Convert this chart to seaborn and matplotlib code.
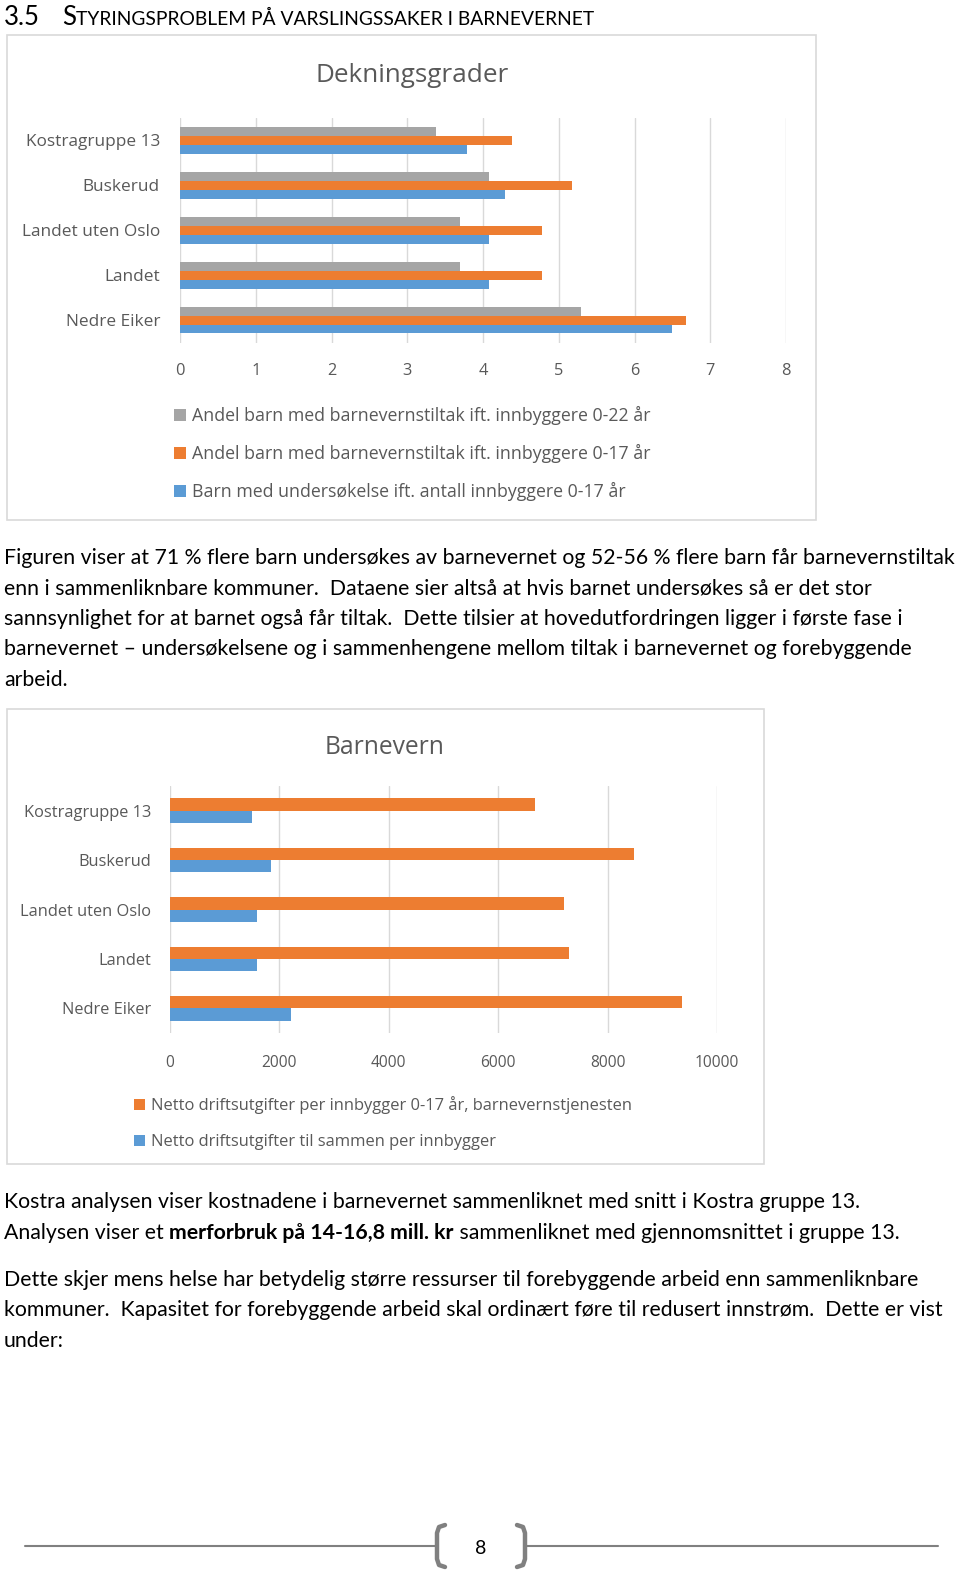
import numpy as np
import pandas as pd
import matplotlib
matplotlib.use("Agg")
import matplotlib.pyplot as plt
import seaborn as sns
from matplotlib import font_manager
from matplotlib.patches import Rectangle
from matplotlib.lines import Line2D

# ---------------- data ----------------
categories = ["Kostragruppe 13", "Buskerud", "Landet uten Oslo", "Landet", "Nedre Eiker"]

dek_series = [
    "Andel barn med barnevernstiltak ift. innbyggere 0-22 år",
    "Andel barn med barnevernstiltak ift. innbyggere 0-17 år",
    "Barn med undersøkelse ift. antall innbyggere 0-17 år",
]
dek_0_22 = [3.38, 4.08, 3.69, 3.69, 5.29]
dek_0_17 = [4.38, 5.18, 4.78, 4.78, 6.68]
dek_unders = [3.79, 4.29, 4.08, 4.08, 6.49]
dek_ticks = [0, 1, 2, 3, 4, 5, 6, 7, 8]

bv_series = [
    "Netto driftsutgifter per innbygger 0-17 år, barnevernstjenesten",
    "Netto driftsutgifter til sammen per innbygger",
]
bv_0_17 = [6670, 8490, 7200, 7290, 9360]
bv_total = [1500, 1850, 1590, 1590, 2220]
bv_ticks = [0, 2000, 4000, 6000, 8000, 10000]

GRAY, ORANGE, BLUE = "#a5a5a5", "#ed7d31", "#5b9bd5"
TXT = "#595959"
GRID = "#d9d9d9"

# ---------------- setup ----------------
sns.set_theme(style="white")
names = {f.name for f in font_manager.fontManager.ttflist}
BODY = "Liberation Sans Narrow" if "Liberation Sans Narrow" in names else "Lato"
CHART = "Open Sans" if "Open Sans" in names else "DejaVu Sans"
plt.rcParams["font.family"] = [CHART, "DejaVu Sans"]

W, H = 960, 1572
fig = plt.figure(figsize=(W / 100, H / 100), dpi=100)
fig.patch.set_facecolor("white")
renderer = fig.canvas.get_renderer()


def rect(x0, y0, x1, y1):
    return [x0 / W, 1 - y1 / H, (x1 - x0) / W, (y1 - y0) / H]


def fx(x):
    return x / W


def fy(y):
    return 1 - y / H


def width_of(text, size, family, weight="normal"):
    t = fig.text(0, 0, text + "|", fontsize=size, family=family, weight=weight)
    w1 = t.get_window_extent(renderer).width
    t.remove()
    t = fig.text(0, 0, "|", fontsize=size, family=family, weight=weight)
    w2 = t.get_window_extent(renderer).width
    t.remove()
    return w1 - w2


def fit(text, target, family, weight="normal"):
    return 10 * target / width_of(text, 10, family, weight)


# ---------------- heading ----------------
hb = fit("3.5", 36, BODY)
fig.text(fx(4), fy(25), "3.5", fontsize=hb, family=BODY, color="black", va="baseline")
fig.text(fx(62), fy(25), "S", fontsize=hb, family=BODY, color="black", va="baseline")
xs = 62 + width_of("S", hb, BODY)
rest = "TYRINGSPROBLEM PÅ VARSLINGSSAKER I BARNEVERNET"
hs = fit(rest, 591 - xs, BODY)
fig.text(fx(xs), fy(25), rest, fontsize=hs, family=BODY, color="black", va="baseline")

# ---------------- chart boxes ----------------
for (x0, y0, x1, y1) in [(7, 35, 816, 520), (7, 709, 764, 1164)]:
    fig.patches.append(Rectangle((fx(x0), fy(y1)), (x1 - x0) / W, (y1 - y0) / H,
                                 transform=fig.transFigure, fill=False, ec=GRID, lw=1.2))


def style_axes(ax, ticks, xmax, ysize, xsize, ypad, xpad):
    ax.set_xlim(0, xmax)
    ax.set_ylim(4.5, -0.5)
    ax.set_xticks(ticks)
    ax.set_xticklabels([str(t) for t in ticks])
    ax.set_xlabel("")
    ax.set_ylabel("")
    for s in ax.spines.values():
        s.set_visible(False)
    ax.grid(axis="x", color=GRID, lw=1.0)
    ax.grid(axis="y", visible=False)
    ax.set_axisbelow(True)
    ax.tick_params(axis="y", length=0, pad=ypad, labelsize=ysize, labelcolor=TXT)
    ax.tick_params(axis="x", length=0, pad=xpad, labelsize=xsize, labelcolor=TXT)
    ax.patch.set_alpha(0)


# ---------------- chart 1 ----------------
fig.text(fx(412), fy(75), "Dekningsgrader", fontsize=fit("Dekningsgrader", 194, CHART),
         color=TXT, ha="center", va="center")
ax1 = fig.add_axes(rect(180, 117.5, 786, 342.5))
df1 = pd.DataFrame({
    "Område": categories * 3,
    "Serie": [s for s in dek_series for _ in categories],
    "Verdi": dek_0_22 + dek_0_17 + dek_unders,
})
sns.barplot(data=df1, y="Område", x="Verdi", hue="Serie", order=categories,
            hue_order=dek_series, palette=[GRAY, ORANGE, BLUE], width=0.6, gap=0,
            saturation=1, linewidth=0, orient="h", ax=ax1, errorbar=None)
ylab1 = fit("Landet uten Oslo", 138, CHART)
style_axes(ax1, dek_ticks, 8, ylab1, ylab1 * 0.95, 14.4, 15)
h1, l1 = ax1.get_legend_handles_labels()
ax1.get_legend().remove()
leg1size = fit(dek_series[0], 457, CHART)
fig.legend(h1, l1, loc="upper left", bbox_to_anchor=(fx(174), fy(406)), frameon=False,
           fontsize=leg1size, labelcolor=TXT, handlelength=0.65, handleheight=0.65,
           handletextpad=0.35, labelspacing=1.07, borderpad=0, borderaxespad=0)

# ---------------- chart 2 ----------------
fig.text(fx(385), fy(747), "Barnevern", fontsize=fit("Barnevern", 119, CHART),
         color=TXT, ha="center", va="center")
ax2 = fig.add_axes(rect(170, 786, 717, 1033))
df2 = pd.DataFrame({
    "Område": categories * 2,
    "Serie": [s for s in bv_series for _ in categories],
    "Verdi": bv_0_17 + bv_total,
})
sns.barplot(data=df2, y="Område", x="Verdi", hue="Serie", order=categories,
            hue_order=bv_series, palette=[ORANGE, BLUE], width=0.5, gap=0,
            saturation=1, linewidth=0, orient="h", ax=ax2, errorbar=None)
ylab2 = fit("Landet uten Oslo", 131, CHART)
style_axes(ax2, bv_ticks, 10000, ylab2, ylab2 * 0.95, 13.7, 16)
h2, l2 = ax2.get_legend_handles_labels()
ax2.get_legend().remove()
leg2size = fit(bv_series[0], 485, CHART)
fig.legend(h2, l2, loc="upper left", bbox_to_anchor=(fx(134), fy(1096)), frameon=False,
           fontsize=leg2size, labelcolor=TXT, handlelength=0.65, handleheight=0.65,
           handletextpad=0.35, labelspacing=1.2, borderpad=0, borderaxespad=0)

# ---------------- body text ----------------
p1 = [
    "Figuren viser at 71 % flere barn undersøkes av barnevernet og 52-56 % flere barn får barnevernstiltak",
    "enn i sammenliknbare kommuner.  Dataene sier altså at hvis barnet undersøkes så er det stor",
    "sannsynlighet for at barnet også får tiltak.  Dette tilsier at hovedutfordringen ligger i første fase i",
    "barnevernet – undersøkelsene og i sammenhengene mellom tiltak i barnevernet og forebyggende",
    "arbeid.",
]
p1_y = [558, 588, 619, 649, 680]
bs = fit(p1[0], 952, BODY)
for line, y in zip(p1, p1_y):
    fig.text(fx(4), fy(y), line, fontsize=bs, family=BODY, color="black", va="center")

fig.text(fx(4), fy(1202), "Kostra analysen viser kostnadene i barnevernet sammenliknet med snitt i Kostra gruppe 13.",
         fontsize=bs, family=BODY, color="black", va="center")
parts = [("Analysen viser et ", "normal"), ("merforbruk på 14-16,8 mill. kr", "bold"),
         (" sammenliknet med gjennomsnittet i gruppe 13.", "normal")]
x = 4
for txt, wgt in parts:
    fig.text(fx(x), fy(1233), txt, fontsize=bs, family=BODY, weight=wgt, color="black", va="center")
    x += width_of(txt, bs, BODY, wgt)

p3 = [
    "Dette skjer mens helse har betydelig større ressurser til forebyggende arbeid enn sammenliknbare",
    "kommuner.  Kapasitet for forebyggende arbeid skal ordinært føre til redusert innstrøm.  Dette er vist",
    "under:",
]
for line, y in zip(p3, [1280, 1310, 1341]):
    fig.text(fx(4), fy(y), line, fontsize=bs, family=BODY, color="black", va="center")

# ---------------- footer ----------------
FG = "#808080"
fig.add_artist(Line2D([fx(25), fx(436)], [fy(1546), fy(1546)], color=FG, lw=1.5,
                      transform=fig.transFigure))
fig.add_artist(Line2D([fx(526), fx(938)], [fy(1546), fy(1546)], color=FG, lw=1.5,
                      transform=fig.transFigure))
lb = [(445, 1525), (439, 1527), (437, 1533), (437, 1559), (439, 1565), (445, 1567)]
rb = [(517, 1525), (523, 1527), (525, 1533), (525, 1559), (523, 1565), (517, 1567)]
for pts in (lb, rb):
    fig.add_artist(Line2D([fx(p[0]) for p in pts], [fy(p[1]) for p in pts], color=FG,
                          lw=3.2, solid_capstyle="round", solid_joinstyle="round",
                          transform=fig.transFigure))
fig.text(fx(481), fy(1548), "8", fontsize=14, family=BODY, color="black", ha="center", va="center")

fig.savefig("out.png", dpi=100, facecolor="white")
